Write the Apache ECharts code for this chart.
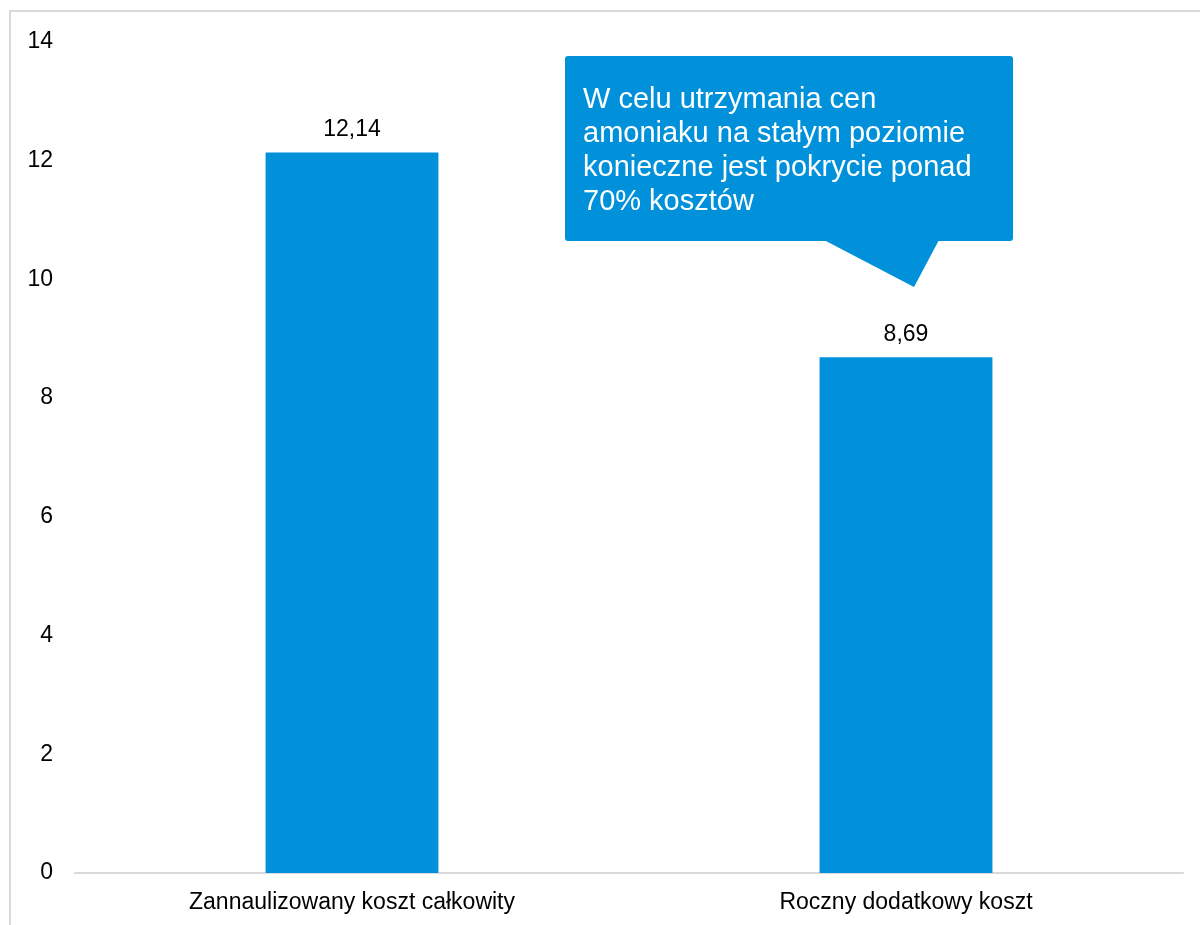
<!DOCTYPE html>
<html>
<head>
<meta charset="utf-8">
<script src="https://cdn.jsdelivr.net/npm/echarts@6/dist/echarts.min.js"></script>
<style>
  html, body { margin: 0; padding: 0; background: #fff; }
  #chart { width: 1200px; height: 925px; }
</style>
</head>
<body>
<div id="chart"></div>
<script>
// Koszty amoniaku
const categories = ['Zannaulizowany koszt całkowity', 'Roczny dodatkowy koszt'];
const values = [12.14, 8.69];
const yTicks = { min: 0, max: 14, interval: 2 };
const calloutText = 'W celu utrzymania cen\namoniaku na stałym poziomie\nkonieczne jest pokrycie ponad\n70% kosztów';

const BLUE = '#0091DA';
const FONT = '"Liberation Sans", Arial, sans-serif';

const chart = echarts.init(document.getElementById('chart'));
chart.setOption({
  animation: false,
  backgroundColor: '#fff',
  grid: { left: 75, right: 17, top: 42, bottom: 52, containLabel: false },
  xAxis: {
    type: 'category',
    data: categories,
    axisLine: { lineStyle: { color: '#d9d9d9', width: 2 } },
    axisTick: { show: false },
    axisLabel: { color: '#000', fontFamily: FONT, fontSize: 23, margin: 18 }
  },
  yAxis: {
    type: 'value',
    min: yTicks.min,
    max: yTicks.max,
    interval: yTicks.interval,
    axisLine: { show: false },
    axisTick: { show: false },
    splitLine: { show: false },
    axisLabel: { color: '#000', fontFamily: FONT, fontSize: 23, margin: 22 }
  },
  series: [{
    type: 'bar',
    data: values,
    barWidth: '31.2%',
    itemStyle: { color: BLUE },
    label: {
      show: true,
      position: 'top',
      distance: 11,
      color: '#000',
      fontFamily: FONT,
      fontSize: 23,
      formatter: p => p.value.toFixed(2).replace('.', ',')
    }
  }],
  graphic: [
    {
      type: 'rect',
      silent: true,
      shape: { x: 10, y: 11, width: 1300, height: 1100 },
      style: { fill: 'none', stroke: '#d9d9d9', lineWidth: 2 }
    },
    {
      type: 'group',
      silent: true,
      children: [
        {
          type: 'rect',
          shape: { x: 565, y: 56, width: 448, height: 185, r: 3 },
          style: { fill: BLUE }
        },
        {
          type: 'polygon',
          shape: { points: [[824, 240], [939, 240], [914, 287]] },
          style: { fill: BLUE }
        },
        {
          type: 'text',
          x: 583,
          y: 83,
          style: {
            text: calloutText,
            fill: '#fff',
            fontFamily: FONT,
            fontSize: 29,
            lineHeight: 34
          }
        }
      ]
    }
  ]
});
</script>
</body>
</html>
